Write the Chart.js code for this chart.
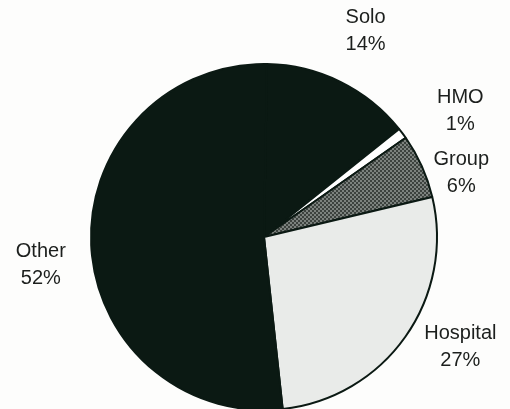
<!DOCTYPE html>
<html>
<head>
<meta charset="utf-8">
<script src="https://cdn.jsdelivr.net/npm/chart.js@4"></script>
<style>
  html, body { margin: 0; padding: 0; background: #fdfdfc; overflow: hidden; }
</style>
</head>
<body>
<canvas id="practiceChart" width="510" height="420"></canvas>
<script>
var categories = ["Solo", "HMO", "Group", "Hospital", "Other"];
var shares = [14, 1, 6, 27, 52];

// small checker pattern for the "Group" slice
function checker(a, b) {
    var c = document.createElement("canvas");
    c.width = 4; c.height = 4;
    var g = c.getContext("2d");
    g.fillStyle = a; g.fillRect(0, 0, 4, 4);
    g.fillStyle = b; g.fillRect(0, 0, 2, 2); g.fillRect(2, 2, 2, 2);
    return g.createPattern(c, "repeat");
}

// label tweaks: [angle shift in degrees, distance as a multiple of the radius]
var labelTweak = [[0, 1.33], [4, 1.35], [6, 1.2], [-6, 1.3], [-4.5, 1.3]];

var sliceLabels = {
    id: "sliceLabels",
    afterDatasetsDraw: function (chart) {
        var ctx = chart.ctx;
        var arcs = chart.getDatasetMeta(0).data;
        ctx.save();
        ctx.font = "20px 'Liberation Sans', Arial, sans-serif";
        ctx.fillStyle = "#1c1f1d";
        ctx.textAlign = "center";
        ctx.textBaseline = "middle";
        arcs.forEach(function (arc, i) {
            var mid = (arc.startAngle + arc.endAngle) / 2 + labelTweak[i][0] * Math.PI / 180;
            var r = arc.outerRadius * labelTweak[i][1];
            var x = arc.x + Math.cos(mid) * r;
            var y = arc.y + Math.sin(mid) * r;
            ctx.fillText(categories[i], x, y - 13);
            ctx.fillText(shares[i] + "%", x, y + 14);
        });
        ctx.restore();
    }
};

new Chart("practiceChart", {
    type: "pie",
    data: {
        labels: categories,
        datasets: [{
            data: shares,
            backgroundColor: [
                '#0b1913',
                '#ffffff',
                checker('#3c423e', '#7c827e'),
                '#e9ebe9',
                '#0b1913',
            ],
            borderColor: "#0b1913",
            borderWidth: 2,
        }],
    },
    options: {
        responsive: false,
        animation: false,
        rotation: 1,
        layout: {
            padding: { left: 90, right: 72, top: 63, bottom: 9 }
        },
        plugins: {
            legend: { display: false },
            tooltip: { enabled: false }
        }
    },
    plugins: [sliceLabels]
});
</script>
</body>
</html>
